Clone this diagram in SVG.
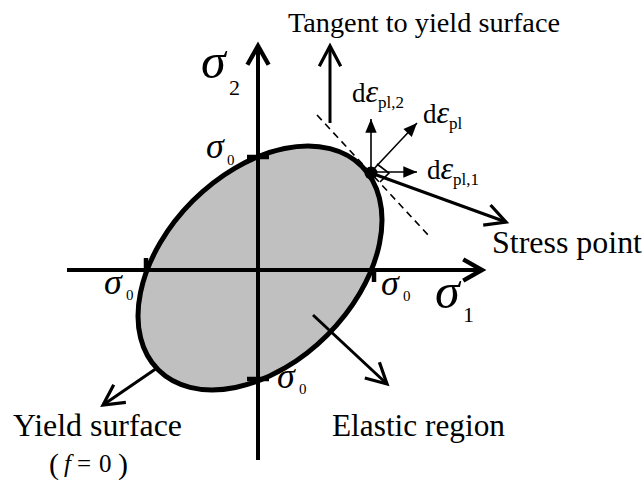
<svg xmlns="http://www.w3.org/2000/svg" width="643" height="480" viewBox="0 0 643 480">
<style>
text{font-family:"Liberation Serif","Times New Roman",serif;fill:#000}
.it{font-style:italic}
.thick{stroke:#000;stroke-width:3;fill:none}
.axis{stroke:#000;stroke-width:4;fill:none}
.thin{stroke:#000;stroke-width:1.6;fill:none}
.tick{stroke:#000;stroke-width:4.5}
</style>
<defs>
<marker id="open" markerUnits="userSpaceOnUse" markerWidth="30" markerHeight="30" viewBox="-24 -14 28 28" refX="0" refY="0" orient="auto">
<path d="M-19,-10 L0,0 L-19,10" fill="none" stroke="#000" stroke-width="3"/>
</marker>
<marker id="axisHead" markerUnits="userSpaceOnUse" markerWidth="30" markerHeight="30" viewBox="-20 -12 24 24" refX="0" refY="0" orient="auto">
<path d="M-15,-8.5 L0,0 L-15,8.5" fill="none" stroke="#000" stroke-width="3.5"/>
</marker>
<marker id="solid" markerUnits="userSpaceOnUse" markerWidth="16" markerHeight="14" viewBox="-13 -6 14 12" refX="0" refY="0" orient="auto">
<path d="M-12,-5 L0,0 L-12,5 Z" fill="#000"/>
</marker>
</defs>

<g id="yield-surface">
<ellipse cx="260" cy="268" rx="144" ry="95" transform="rotate(-45 260 268)" fill="#c0c0c0" stroke="#000" stroke-width="5"/>
</g>

<g id="axes">
<line class="axis" x1="67" y1="270" x2="482" y2="270" marker-end="url(#axisHead)"/>
<line class="axis" x1="258" y1="460" x2="258" y2="46" marker-end="url(#axisHead)"/>
<line class="tick" x1="247" y1="157" x2="269" y2="157"/>
<line class="tick" x1="247" y1="379" x2="269" y2="379"/>
<line class="tick" x1="146" y1="258" x2="146" y2="272"/>
<line class="tick" x1="374" y1="268" x2="374" y2="282"/>
</g>

<g id="connectors">
<line x1="317" y1="115" x2="430" y2="237" stroke="#000" stroke-width="1.6" stroke-dasharray="7,5"/>
<line class="thick" x1="330" y1="123" x2="330" y2="46" marker-end="url(#open)"/>
<line class="thick" x1="371" y1="173" x2="506" y2="222" marker-end="url(#open)"/>
<line class="thick" x1="313" y1="315" x2="387" y2="384" marker-end="url(#open)"/>
<line class="thick" x1="157" y1="368" x2="103" y2="405" marker-end="url(#open)"/>
<line class="thin" x1="371" y1="172" x2="371" y2="119" marker-end="url(#solid)"/>
<line class="thin" x1="371" y1="172" x2="417" y2="123" marker-end="url(#solid)"/>
<line class="thin" x1="371" y1="172" x2="417" y2="172" marker-end="url(#solid)"/>
<path class="thin" d="M377,164 L389,173 L380,182"/>
</g>

<g id="stress-point">
<circle cx="371" cy="173" r="6.5" fill="#000"/>
</g>

<g id="labels">
<text x="288" y="32" font-size="28" textLength="272" lengthAdjust="spacingAndGlyphs">Tangent to yield surface</text>
<text x="492" y="253" font-size="31" textLength="150" lengthAdjust="spacingAndGlyphs">Stress point</text>
<text x="13" y="436" font-size="31" textLength="169" lengthAdjust="spacingAndGlyphs">Yield surface</text>
<text x="332" y="436" font-size="31" textLength="173" lengthAdjust="spacingAndGlyphs">Elastic region</text>
<text y="472" font-size="25"><tspan x="49" font-size="30" y="474">(</tspan><tspan x="64" class="it" y="472">f</tspan><tspan x="77">=</tspan><tspan x="99">0</tspan><tspan x="118" font-size="30" y="474">)</tspan></text>

<text x="201" y="78" font-size="50" class="it">σ</text>
<text x="229" y="95" font-size="22">2</text>
<text x="435" y="308" font-size="50" class="it">σ</text>
<text x="463" y="322" font-size="22">1</text>

<text x="206" y="158" font-size="36" class="it">σ</text>
<text x="227" y="165" font-size="15">0</text>
<text x="104" y="294" font-size="36" class="it">σ</text>
<text x="126" y="300" font-size="15">0</text>
<text x="381" y="295" font-size="36" class="it">σ</text>
<text x="403" y="301" font-size="15">0</text>
<text x="277" y="388" font-size="36" class="it">σ</text>
<text x="299" y="394" font-size="15">0</text>

<text x="352" y="102" font-size="27">d<tspan class="it" font-size="32">ε</tspan><tspan font-size="17" dy="6">pl,2</tspan></text>
<text x="423" y="123" font-size="27">d<tspan class="it" font-size="32">ε</tspan><tspan font-size="17" dy="6">pl</tspan></text>
<text x="427" y="179" font-size="27">d<tspan class="it" font-size="32">ε</tspan><tspan font-size="17" dy="6">pl,1</tspan></text>
</g>
</svg>
